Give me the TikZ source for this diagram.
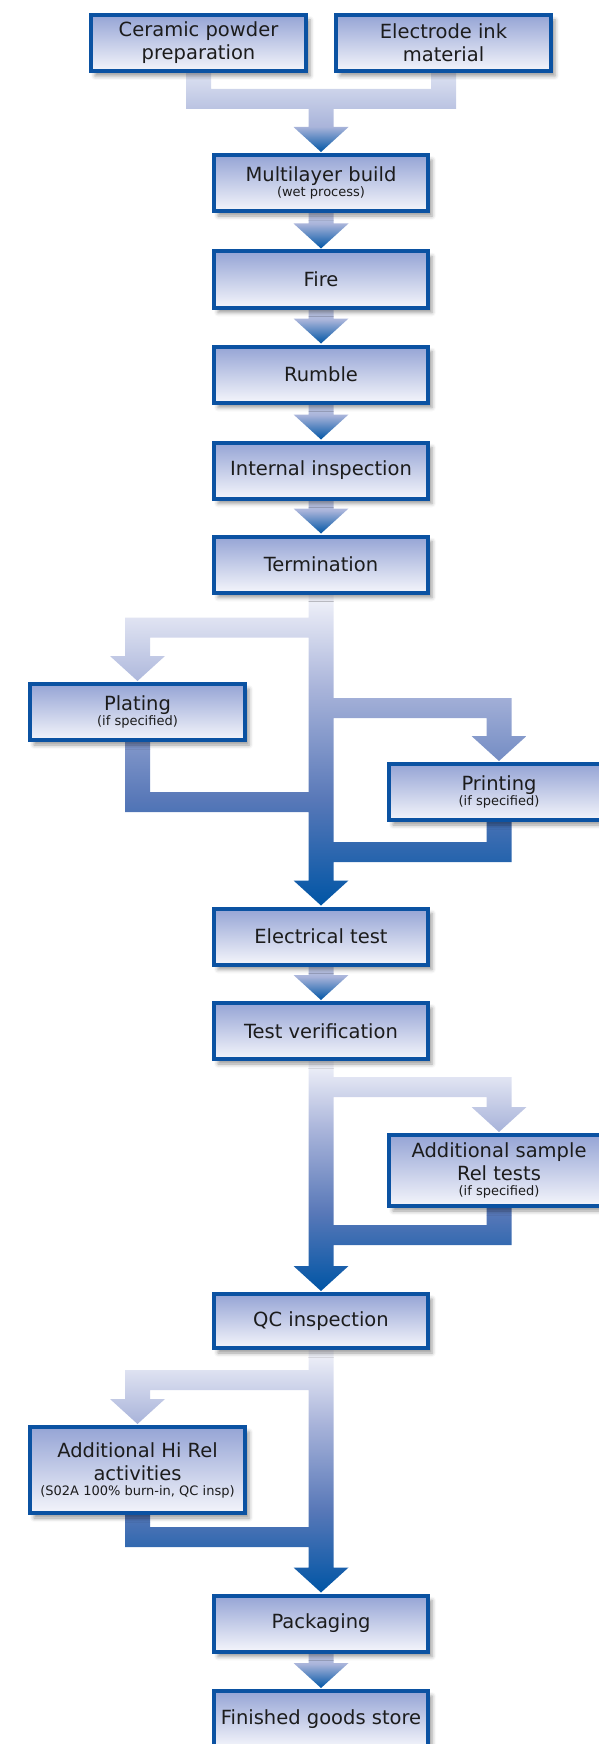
\documentclass[tikz,border=0pt]{standalone}
\usepackage{fontspec}
\setmainfont{DejaVu Sans}
\usetikzlibrary{calc,backgrounds,shadows.blur}

\definecolor{boxline}{HTML}{0B52A2}
\definecolor{boxtop}{HTML}{95A4D5}
\definecolor{boxbot}{HTML}{F4F5FB}
\definecolor{labeltext}{HTML}{1C1C1C}
\definecolor{pipedark}{HTML}{0055A5}
\definecolor{pipemid}{HTML}{5878B8}
\definecolor{pipelight}{HTML}{A9B4DA}
\definecolor{pipetop}{HTML}{F2F3FA}
\definecolor{stubtop}{HTML}{C3CBE7}
\definecolor{mergetop}{HTML}{DCE1F1}

\pgfdeclareverticalshading{pipeshade}{100bp}{color(0bp)=(pipedark); color(25bp)=(pipedark); color(42bp)=(pipemid); color(60bp)=(pipelight); color(75bp)=(pipetop); color(100bp)=(pipetop)}
\pgfdeclareverticalshading{stubshade}{100bp}{color(0bp)=(pipedark); color(25bp)=(pipedark); color(60bp)=(pipelight); color(75bp)=(stubtop); color(100bp)=(stubtop)}
\pgfdeclareverticalshading{mergeshade}{100bp}{color(0bp)=(pipedark); color(25bp)=(pipedark); color(41bp)=(pipelight); color(75bp)=(mergetop); color(100bp)=(mergetop)}

\newcommand{\subline}[1]{{\fontsize{13}{15}\selectfont #1}}

\begin{document}
\begin{tikzpicture}[x=1pt, y=-1pt,
		stage/.style={draw=boxline, line width=4pt, top color=boxtop, bottom color=boxbot,
			minimum width=214pt, minimum height=56pt, inner sep=2pt, align=center,
			text=labeltext, font=\fontsize{19.5}{23}\selectfont,
			blur shadow={shadow xshift=4pt, shadow yshift=-5pt, shadow blur radius=4pt, shadow opacity=40}},
		flowpipe/.style={shading=pipeshade}
		]
		\useasboundingbox (0,0) rectangle (598,1744);

		% raw materials
		\node[stage, minimum width=215pt] (ceramic) at (198.5,43) {Ceramic powder\\preparation};
		\node[stage, minimum width=215pt] (electrode) at (443.5,43) {Electrode ink\\material};

		% process line
		\node[stage] (multi) at (321,183) {Multilayer build\\[-8pt]\subline{(wet process)}};
		\node[stage] (fire) at (321,279.5) {Fire};
		\node[stage] (rumble) at (321,374.5) {Rumble};
		\node[stage] (intinsp) at (321,470.5) {Internal inspection};
		\node[stage] (term) at (321,564.5) {Termination};
		\node[stage, minimum width=215pt] (plating) at (137.5,712) {Plating\\[-8pt]\subline{(if specified)}};
		\node[stage, minimum width=220pt] (printing) at (499,792) {Printing\\[-8pt]\subline{(if specified)}};
		\node[stage] (elec) at (321,936.5) {Electrical test};
		\node[stage] (testver) at (321,1031) {Test verification};
		\node[stage, minimum width=220pt, minimum height=71pt] (addsample) at (499,1170.5) {Additional sample\\Rel tests\\[-8pt]\subline{(if specified)}};
		\node[stage, minimum height=54pt] (qc) at (321,1321) {QC inspection};
		\node[stage, minimum width=215pt, minimum height=86pt] (hirel) at (137.5,1470) {Additional Hi Rel\\activities\\[-8pt]\subline{(S02A 100\% burn-in, QC insp)}};
		\node[stage] (packaging) at (321,1623.5) {Packaging};
		\node[stage] (finished) at (321,1719) {Finished goods store};

		\begin{pgfonlayer}{background}
			% both inputs join into the build
			\shade[shading=mergeshade]
				($(ceramic.south)+(-12.5,0)$) rectangle ($(ceramic.south)+(12.5,16)$)
				($(electrode.south)+(-12.5,0)$) rectangle ($(electrode.south)+(12.5,16)$)
				($(ceramic.south)+(-12.5,16)$) rectangle ($(electrode.south)+(12.5,36)$)
				($(ceramic.south -| multi.north)+(-12.5,36)$) rectangle ($(multi.north)+(12.5,-26)$)
				($(multi.north)+(-27.5,-26)$) -- ($(multi.north)+(27.5,-26)$) -- ($(multi.north)+(0,-1)$) -- cycle;

			% short steps
			\foreach \from/\to in {multi/fire, fire/rumble, rumble/intinsp, intinsp/term, elec/testver, packaging/finished}
				\shade[shading=stubshade]
					($(\from.south)+(-12.5,0)$) rectangle ($(\to.north)+(12.5,-26)$)
					($(\to.north)+(-27.5,-26)$) -- ($(\to.north)+(27.5,-26)$) -- ($(\to.north)+(0,-1)$) -- cycle;

			% termination, with plating and printing loops
			\shade[flowpipe]
				($(term.south)+(-12.5,0)$) rectangle ($(elec.north)+(12.5,-26)$)
				($(elec.north)+(-27.5,-26)$) -- ($(elec.north)+(27.5,-26)$) -- ($(elec.north)+(0,-1)$) -- cycle
				($(plating.north |- term.south)+(-12.5,23)$) rectangle ($(term.south)+(-12.5,43)$)
				($(plating.north |- term.south)+(-12.5,43)$) rectangle ($(plating.north)+(12.5,-26)$)
				($(plating.north)+(-27.5,-26)$) -- ($(plating.north)+(27.5,-26)$) -- ($(plating.north)+(0,-1)$) -- cycle
				($(plating.south)+(-12.5,0)$) rectangle ($(plating.south)+(12.5,50)$)
				($(plating.south)+(-12.5,50)$) rectangle ($(plating.south -| term.south)+(-12.5,70)$)
				($(term.south |- printing.north)+(12.5,-64)$) rectangle ($(printing.north)+(12.5,-44)$)
				($(printing.north)+(-12.5,-44)$) rectangle ($(printing.north)+(12.5,-26)$)
				($(printing.north)+(-27.5,-26)$) -- ($(printing.north)+(27.5,-26)$) -- ($(printing.north)+(0,-1)$) -- cycle
				($(printing.south)+(-12.5,0)$) rectangle ($(printing.south)+(12.5,20)$)
				($(term.south |- printing.south)+(12.5,20)$) rectangle ($(printing.south)+(12.5,40)$);

			% test verification, with sample tests loop
			\shade[flowpipe]
				($(testver.south)+(-12.5,0)$) rectangle ($(qc.north)+(12.5,-26)$)
				($(qc.north)+(-27.5,-26)$) -- ($(qc.north)+(27.5,-26)$) -- ($(qc.north)+(0,-1)$) -- cycle
				($(testver.south)+(12.5,16)$) rectangle ($(testver.south -| addsample.north)+(12.5,36)$)
				($(testver.south -| addsample.north)+(-12.5,36)$) rectangle ($(addsample.north)+(12.5,-26)$)
				($(addsample.north)+(-27.5,-26)$) -- ($(addsample.north)+(27.5,-26)$) -- ($(addsample.north)+(0,-1)$) -- cycle
				($(addsample.south)+(-12.5,0)$) rectangle ($(addsample.south)+(12.5,17)$)
				($(addsample.south -| testver.south)+(12.5,17)$) rectangle ($(addsample.south)+(12.5,37)$);

			% qc, with hi rel loop
			\shade[flowpipe]
				($(qc.south)+(-12.5,0)$) rectangle ($(packaging.north)+(12.5,-26)$)
				($(packaging.north)+(-27.5,-26)$) -- ($(packaging.north)+(27.5,-26)$) -- ($(packaging.north)+(0,-1)$) -- cycle
				($(qc.south -| hirel.north)+(-12.5,20)$) rectangle ($(qc.south)+(-12.5,40)$)
				($(qc.south -| hirel.north)+(-12.5,40)$) rectangle ($(hirel.north)+(12.5,-26)$)
				($(hirel.north)+(-27.5,-26)$) -- ($(hirel.north)+(27.5,-26)$) -- ($(hirel.north)+(0,-1)$) -- cycle
				($(hirel.south)+(-12.5,0)$) rectangle ($(hirel.south)+(12.5,12)$)
				($(hirel.south)+(-12.5,12)$) rectangle ($(hirel.south -| qc.south)+(-12.5,32)$);
		\end{pgfonlayer}
	\end{tikzpicture}
\end{document}
